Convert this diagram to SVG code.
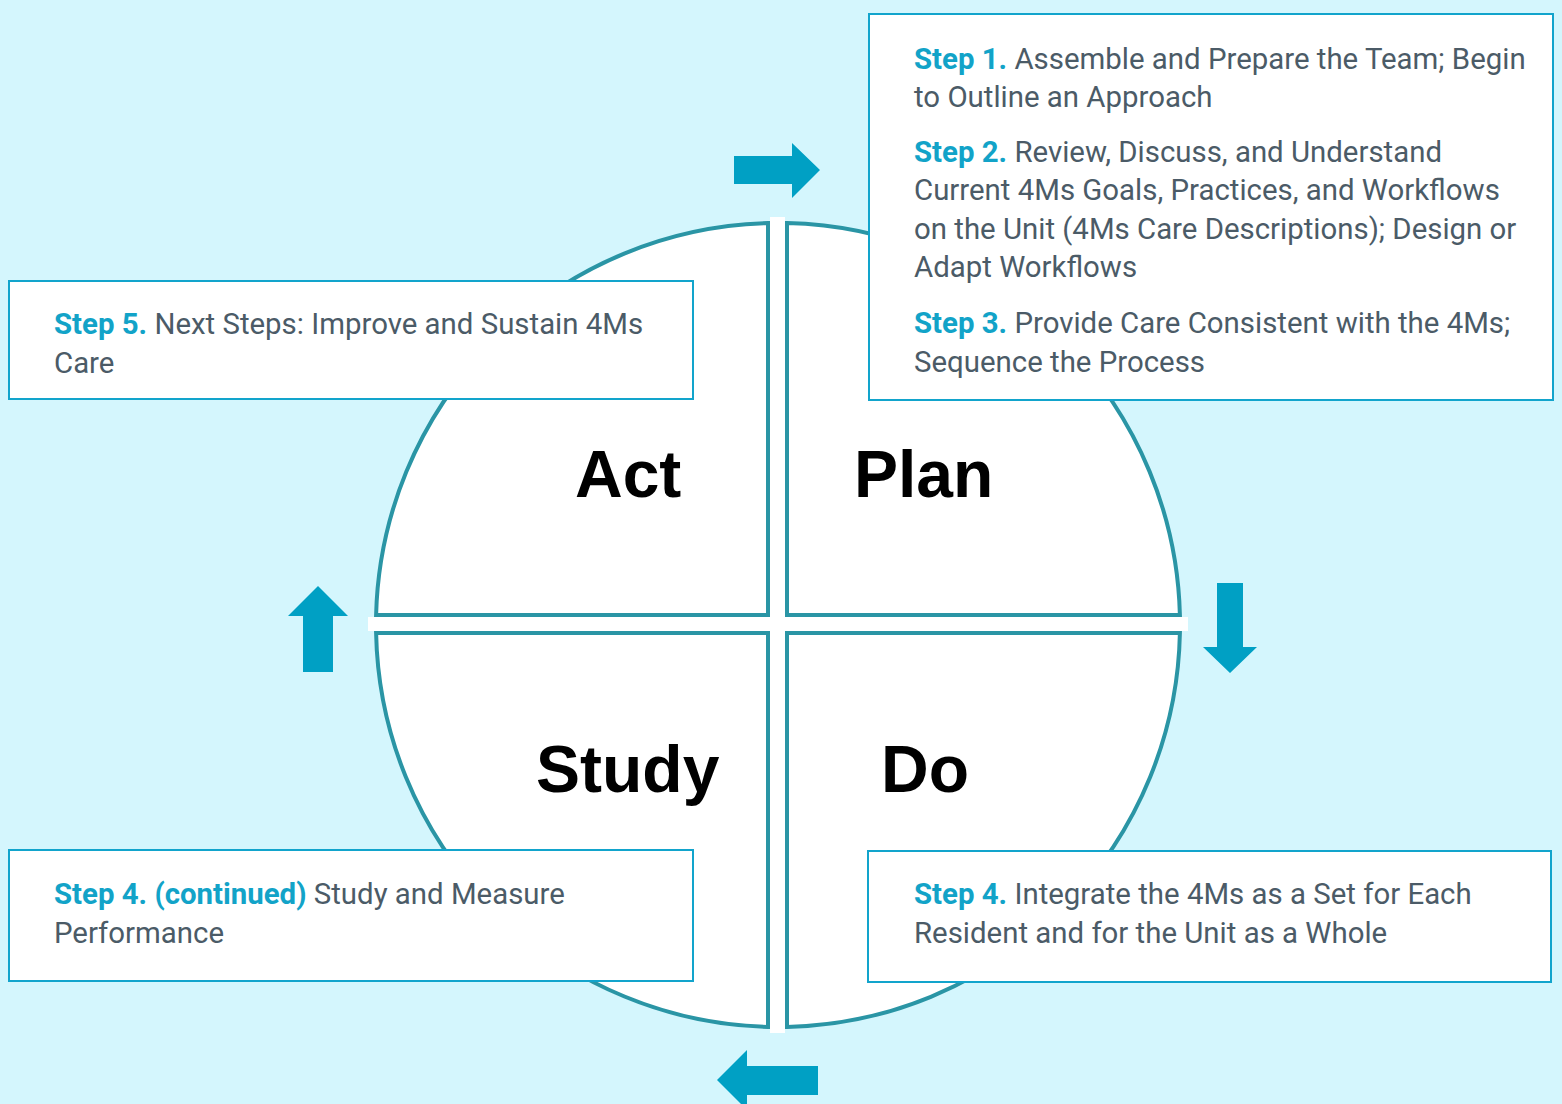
<svg xmlns="http://www.w3.org/2000/svg" width="1562" height="1104" viewBox="0 0 1562 1104">
<style>
.bg{fill:#d4f6fd}
.quad{fill:#ffffff;stroke:#2a95a5;stroke-width:4}
.arrow{fill:#00a0c4}
.box{fill:#ffffff;stroke:#12a4cc;stroke-width:2}
.t{font-family:Roboto,"Liberation Sans",sans-serif;font-size:29.4px;fill:#4b5b67}
.s{font-weight:bold;fill:#12a3c8}
.lab{font-family:"Liberation Sans",Arial,sans-serif;font-weight:bold;font-size:66px;fill:#000000}
</style>
<rect class="bg" x="0" y="0" width="1562" height="1104"/>
<g id="cycle">
  <rect x="770" y="217" width="15" height="816" fill="#ffffff"/>
  <rect x="368" y="617" width="820" height="14" fill="#ffffff"/>
  <g id="act"><path class="quad" d="M768,615 L376.1,615 A402,402 0 0 1 768,223.1 Z"/><text class="lab" x="575" y="497">Act</text></g>
  <g id="plan"><path class="quad" d="M787,615 L787,223.1 A402,402 0 0 1 1179.9,615 Z"/><text class="lab" x="854" y="497">Plan</text></g>
  <g id="do"><path class="quad" d="M787,633 L1179.9,633 A402,402 0 0 1 787,1026.9 Z"/><text class="lab" x="881" y="792">Do</text></g>
  <g id="study"><path class="quad" d="M768,633 L768,1026.9 A402,402 0 0 1 376.1,633 Z"/><text class="lab" x="536" y="792">Study</text></g>
</g>
<g id="connectors">
  <polygon class="arrow" points="734,156 792,156 792,143 820,170 792,198 792,184 734,184"/>
  <polygon class="arrow" points="1217,583 1243,583 1243,647 1257,647 1230,673 1203,647 1217,647"/>
  <polygon class="arrow" points="818,1066 818,1095 747,1095 747,1110 717,1080 747,1050 747,1066"/>
  <polygon class="arrow" points="303,672 303,616 288,616 318,586 348,616 333,616 333,672"/>
</g>
<g id="box-plan">
  <rect class="box" x="869" y="14" width="684" height="386"/>
  <text class="t" x="914" y="69"><tspan class="s">Step 1.</tspan> Assemble and Prepare the Team; Begin</text>
  <text class="t" x="914" y="107">to Outline an Approach</text>
  <text class="t" x="914" y="162"><tspan class="s">Step 2.</tspan> Review, Discuss, and Understand</text>
  <text class="t" x="914" y="200">Current 4Ms Goals, Practices, and Workflows</text>
  <text class="t" x="914" y="239">on the Unit (4Ms Care Descriptions); Design or</text>
  <text class="t" x="914" y="277">Adapt Workflows</text>
  <text class="t" x="914" y="333"><tspan class="s">Step 3.</tspan> Provide Care Consistent with the 4Ms;</text>
  <text class="t" x="914" y="372">Sequence the Process</text>
</g>
<g id="box-act">
  <rect class="box" x="9" y="281" width="684" height="118"/>
  <text class="t" x="54" y="334"><tspan class="s">Step 5.</tspan> Next Steps: Improve and Sustain 4Ms</text>
  <text class="t" x="54" y="373">Care</text>
</g>
<g id="box-study">
  <rect class="box" x="9" y="850" width="684" height="131"/>
  <text class="t" x="54" y="904"><tspan class="s">Step 4. (continued)</tspan> Study and Measure</text>
  <text class="t" x="54" y="943">Performance</text>
</g>
<g id="box-do">
  <rect class="box" x="868" y="851" width="683" height="131"/>
  <text class="t" x="914" y="904"><tspan class="s">Step 4.</tspan> Integrate the 4Ms as a Set for Each</text>
  <text class="t" x="914" y="943">Resident and for the Unit as a Whole</text>
</g>
</svg>
